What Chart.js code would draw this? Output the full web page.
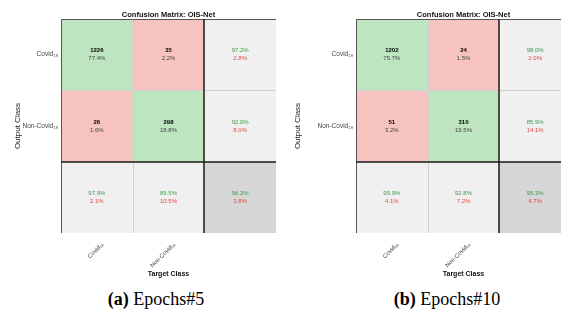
<!DOCTYPE html>
<html>
<head>
<meta charset="utf-8">
<script src="https://cdn.jsdelivr.net/npm/chart.js@4/dist/chart.umd.min.js"></script>
<style>
  html, body { margin:0; padding:0; background:#fff; width:561px; height:320px; overflow:hidden; position:relative; }
  .cv { position:absolute; top:0; }
  .cap { position:absolute; top:289px; font-family:"Liberation Serif","DejaVu Serif",serif; font-size:18px; color:#000; white-space:nowrap; transform:translateX(-50%); }
</style>
</head>
<body>
<canvas id="cA" class="cv" style="left:0px"></canvas>
<canvas id="cB" class="cv" style="left:280px"></canvas>
<div class="cap" style="left:156px"><b>(a)</b> Epochs#5</div>
<div class="cap" style="left:447px"><b>(b)</b> Epochs#10</div>
<script>
// ---- data ----
const targetClasses = ['Covid\u2081\u2089', 'Non-Covid\u2081\u2089', ''];
const outputClasses = ['Covid\u2081\u2089', 'Non-Covid\u2081\u2089'];
const chartTitle = 'Confusion Matrix: OIS-Net';

// Epochs#5
const e5Counts = [[1226, 35], [26, 298]];
const e5CellPct = [['77.4%', '2.2%'], ['1.6%', '18.8%']];
const e5RowCorrect = ['97.2%', '92.0%'];
const e5RowWrong = ['2.8%', '8.0%'];
const e5ColCorrect = ['97.9%', '89.5%'];
const e5ColWrong = ['2.1%', '10.5%'];
const e5Overall = ['96.2%', '3.8%'];

// Epochs#10
const e10Counts = [[1202, 24], [51, 310]];
const e10CellPct = [['75.7%', '1.5%'], ['3.2%', '19.5%']];
const e10RowCorrect = ['98.0%', '85.9%'];
const e10RowWrong = ['2.0%', '14.1%'];
const e10ColCorrect = ['95.9%', '92.8%'];
const e10ColWrong = ['4.1%', '7.2%'];
const e10Overall = ['95.3%', '4.7%'];

// ---- styles ----
const GREEN = '#bde5c0', PINK = '#f7c3c0', GRAY = '#f0f0f0', DGRAY = '#d6d6d6';
const cellColors = [[GREEN, PINK, GRAY], [PINK, GREEN, GRAY], [GRAY, GRAY, DGRAY]];
const FONT = '"Liberation Sans", Arial, sans-serif';

function makeChart(id, yAxisWidth, canvasW, d) {
  const cv = document.getElementById(id);
  cv.width = canvasW; cv.height = 285;
  cv.style.width = canvasW + 'px'; cv.style.height = '285px';

  const datasets = [0, 1, 2].map(r => ({
    data: [1, 1, 1],
    backgroundColor: cellColors[r],
    borderWidth: 0,
    barPercentage: 1,
    categoryPercentage: 1,
    stack: 's'
  }));

  const textPlugin = {
    id: 'cmText',
    afterDatasetsDraw(chart) {
      const ctx = chart.ctx;
      const ys = chart.scales.y;
      const ca = chart.chartArea;
      ctx.save();
      ctx.textAlign = 'center';
      ctx.textBaseline = 'middle';
      for (let r = 0; r < 3; r++) {
        const meta = chart.getDatasetMeta(r);
        for (let c = 0; c < 3; c++) {
          const el = meta.data[c];
          const cx = el.x;
          const cy = (el.y + el.base) / 2;
          let top, bot, topCol, botCol, topBold;
          if (r < 2 && c < 2) {
            top = String(d.counts[r][c]); bot = d.cellPct[r][c];
            topCol = '#000'; botCol = '#444'; topBold = true;
          } else if (r < 2 && c === 2) {
            top = d.rowCorrect[r]; bot = d.rowWrong[r];
            topCol = '#3f9c4e'; botCol = '#e0484c'; topBold = false;
          } else if (r === 2 && c < 2) {
            top = d.colCorrect[c]; bot = d.colWrong[c];
            topCol = '#3f9c4e'; botCol = '#e0484c'; topBold = false;
          } else {
            top = d.overall[0]; bot = d.overall[1];
            topCol = '#3f9c4e'; botCol = '#e0484c'; topBold = false;
          }
          ctx.font = (topBold ? 'bold ' : '') + '6px ' + FONT;
          ctx.fillStyle = topCol;
          ctx.fillText(top, cx, cy - 4);
          ctx.font = '6px ' + FONT;
          ctx.fillStyle = botCol;
          ctx.fillText(bot, cx, cy + 4);
        }
      }
      // grid lines
      const m0 = chart.getDatasetMeta(0);
      const colEdges = m0.data.map(el => el.x - el.width / 2);
      const y1 = ys.getPixelForValue(1), y2 = ys.getPixelForValue(2);
      ctx.strokeStyle = '#cfcfcf'; ctx.lineWidth = 1;
      ctx.beginPath();
      ctx.moveTo(Math.round(colEdges[1]) + 0.5, ca.top); ctx.lineTo(Math.round(colEdges[1]) + 0.5, ca.bottom);
      ctx.moveTo(ca.left, Math.round(y1) + 0.5); ctx.lineTo(ca.right, Math.round(y1) + 0.5);
      ctx.stroke();
      ctx.strokeStyle = '#555'; ctx.lineWidth = 1;
      ctx.beginPath();
      ctx.moveTo(ca.left + 0.5, ca.bottom); ctx.lineTo(ca.left + 0.5, ca.top + 0.5); ctx.lineTo(ca.right, ca.top + 0.5);
      ctx.stroke();
      ctx.strokeStyle = '#1a1a1a'; ctx.lineWidth = 1.5;
      ctx.beginPath();
      ctx.moveTo(Math.round(colEdges[2]), ca.top); ctx.lineTo(Math.round(colEdges[2]), ca.bottom);
      ctx.moveTo(ca.left, Math.round(y2)); ctx.lineTo(ca.right, Math.round(y2));
      ctx.stroke();
      ctx.restore();
    }
  };

  return new Chart(cv, {
    type: 'bar',
    data: { labels: targetClasses, datasets },
    options: {
      responsive: false,
      animation: false,
      layout: { padding: { left: 0, right: 0, top: 0, bottom: 0 } },
      plugins: {
        legend: { display: false },
        tooltip: { enabled: false },
        title: {
          display: true, text: chartTitle, fullSize: false, color: '#111',
          font: { family: FONT, size: 7.5, weight: 'bold', lineHeight: 1.2 },
          padding: { top: 10, bottom: 0 }
        }
      },
      scales: {
        x: {
          stacked: true,
          grid: { display: false, drawTicks: false, tickLength: 0 }, border: { display: false },
          ticks: { minRotation: 45, maxRotation: 45, padding: 8, labelOffset: 6, color: '#444', font: { family: FONT, size: 6 } },
          title: { display: true, text: 'Target Class', color: '#111', font: { family: FONT, size: 7, weight: 'bold' }, padding: { top: 0, bottom: 7 } },
          afterFit(s) { s.height = 52; }
        },
        y: {
          stacked: true, min: 0, max: 3, reverse: true,
          grid: { display: false, drawTicks: false, tickLength: 0 }, border: { display: false },
          afterBuildTicks(s) { s.ticks = [{ value: 0.5 }, { value: 1.5 }]; },
          ticks: {
            padding: 3, color: '#444', font: { family: FONT, size: 6.5 },
            callback: (v, i) => outputClasses[i]
          },
          title: { display: true, text: 'Output Class', color: '#222', font: { family: FONT, size: 8 }, padding: { top: 13, bottom: 0 } },
          afterFit(s) { s.width = yAxisWidth; }
        }
      }
    },
    plugins: [textPlugin]
  });
}

makeChart('cA', 61, 276, {
  counts: e5Counts, cellPct: e5CellPct, rowCorrect: e5RowCorrect, rowWrong: e5RowWrong,
  colCorrect: e5ColCorrect, colWrong: e5ColWrong, overall: e5Overall
});
makeChart('cB', 76, 291, {
  counts: e10Counts, cellPct: e10CellPct, rowCorrect: e10RowCorrect, rowWrong: e10RowWrong,
  colCorrect: e10ColCorrect, colWrong: e10ColWrong, overall: e10Overall
});
</script>
</body>
</html>
